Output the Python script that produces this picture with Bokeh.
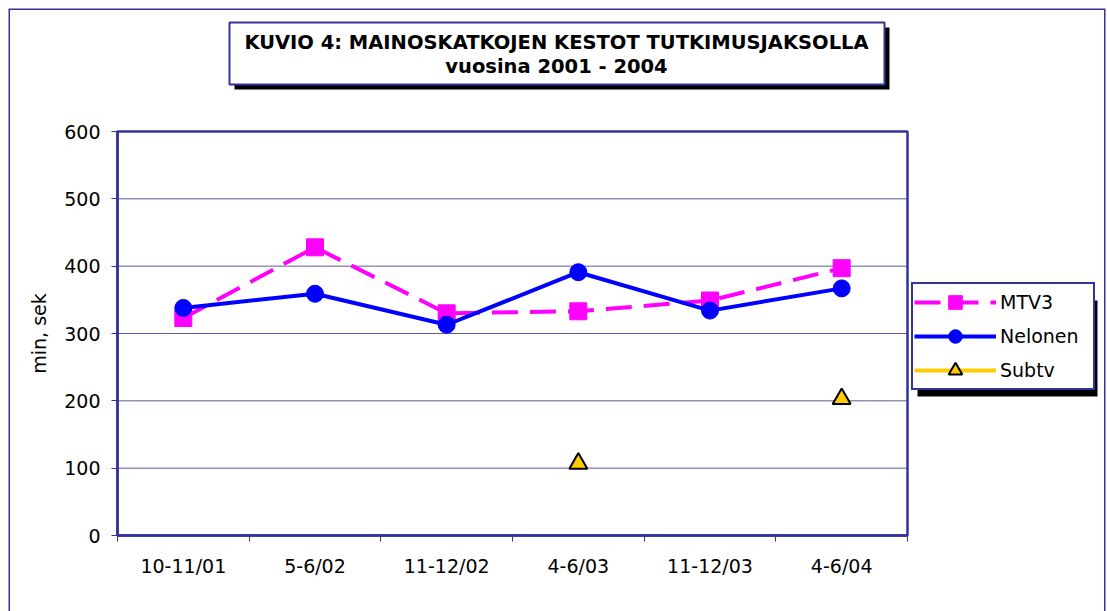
from bokeh.plotting import figure
from bokeh.models import (BoxAnnotation, Label, Legend, LegendItem, FixedTicker, Range1d)
from bokeh.embed import file_html
from bokeh.resources import INLINE

categories = ["10-11/01", "5-6/02", "11-12/02", "4-6/03", "11-12/03", "4-6/04"]
mtv3 = [323, 428, 330, 333, 349, 397]
nelonen = [338, 359, 313, 391, 334, 367]
subtv = [None, None, None, 107, None, 203]
y_ticks = [0, 100, 200, 300, 400, 500, 600]
title_line1 = "KUVIO 4: MAINOSKATKOJEN KESTOT TUTKIMUSJAKSOLLA"
title_line2 = "vuosina 2001 - 2004"
y_label = "min, sek"

NAVY = "#333399"
GRID = "#5c5c9c"
FONT = "DejaVu Sans"
FS = "19px"

N = len(categories)
x = [i + 0.5 for i in range(N)]
subtv_vals = [float("nan") if v is None else v for v in subtv]
ymin, ymax = y_ticks[0], y_ticks[-1]

# page geometry (pixels)
W, H = 1107, 611
FL, FT, FR, FB = 8, 8, 1105, 611          # frame (outer border)
PL, PT, PR, PB = 117, 131, 907, 535       # plot area
sx = (PR - PL) / N
sy = (PB - PT) / (ymax - ymin)
x_range = Range1d(0 - (PL - FL) / sx, N + (FR - PR) / sx)
y_range = Range1d(ymin - (FB - PB) / sy, ymax + (PT - FT) / sy)

p = figure(width=W, height=H, output_backend="svg", toolbar_location=None,
           x_range=x_range, y_range=y_range,
           min_border_left=FL, min_border_right=W - FR, min_border_top=FT,
           min_border_bottom=H - FB)
p.background_fill_color = "white"
p.border_fill_color = "white"
p.outline_line_color = None
p.grid.visible = False

# x axis
p.xaxis.fixed_location = ymin
p.xaxis.bounds = (0, N)
p.xaxis.ticker = FixedTicker(ticks=x, minor_ticks=list(range(N + 1)))
p.xaxis.major_label_overrides = {xi: c for xi, c in zip(x, categories)}
p.xaxis.major_tick_out = 0
p.xaxis.major_tick_in = 0
p.xaxis.minor_tick_out = 6
p.xaxis.minor_tick_in = 0
p.xaxis.minor_tick_line_color = NAVY
p.xaxis.minor_tick_line_width = 1
p.xaxis.axis_line_color = NAVY
p.xaxis.axis_line_width = 2.5
p.xaxis.major_label_standoff = 13
p.xaxis.major_label_text_font = FONT
p.xaxis.major_label_text_font_size = FS
p.xaxis.major_label_text_color = "black"

# y axis
p.yaxis.fixed_location = 0
p.yaxis.bounds = (ymin, ymax)
p.yaxis.ticker = FixedTicker(ticks=y_ticks, minor_ticks=[])
p.yaxis.major_tick_out = 6
p.yaxis.major_tick_in = 0
p.yaxis.major_tick_line_color = NAVY
p.yaxis.axis_line_color = NAVY
p.yaxis.axis_line_width = 2.5
p.yaxis.major_label_standoff = 11
p.yaxis.major_label_text_font = FONT
p.yaxis.major_label_text_font_size = FS
p.yaxis.major_label_text_color = "black"
p.yaxis.axis_label = y_label
p.yaxis.axis_label_text_font = FONT
p.yaxis.axis_label_text_font_size = FS
p.yaxis.axis_label_text_font_style = "normal"
p.yaxis.axis_label_text_color = "black"
p.yaxis.axis_label_standoff = 11

# horizontal gridlines inside the plot area
p.segment(x0=[0] * (len(y_ticks) - 2), x1=[N] * (len(y_ticks) - 2),
          y0=y_ticks[1:-1], y1=y_ticks[1:-1], line_color=GRID, line_width=1)

# series
r_m = p.line(x, mtv3, line_color="#FF00FF", line_width=4, line_dash="26 12")
s_m = p.scatter(x, mtv3, marker="square", size=17, fill_color="#FF00FF", line_color="#FF00FF")
r_n = p.line(x, nelonen, line_color="#0000FF", line_width=4)
s_n = p.scatter(x, nelonen, marker="circle", size=17, fill_color="#0000FF", line_color="#0000FF")
r_s = p.line(x, subtv_vals, line_color="#FFCC00", line_width=4)
s_s = p.scatter(x, subtv_vals, marker="triangle", size=18, fill_color="#FFCC00",
                line_color="black", line_width=2)

# plot area border
p.add_layout(BoxAnnotation(left=0, right=N, bottom=ymin, top=ymax,
                           fill_alpha=0, line_color=NAVY, line_alpha=1, line_width=2.5))


def canvas_box(l, t, r, b, **kw):
    return BoxAnnotation(left=l, right=r, top=t, bottom=b,
                         left_units="canvas", right_units="canvas",
                         top_units="canvas", bottom_units="canvas", **kw)


# outer border (bottom edge runs off the page)
p.add_layout(canvas_box(FL, FT, FR, H + 20, fill_alpha=0, line_color=NAVY,
                        line_alpha=1, line_width=3))

# title box with shadow
p.add_layout(canvas_box(234, 27, 889, 89, fill_color="black", fill_alpha=1, line_alpha=0))
p.add_layout(canvas_box(229, 22, 884, 84, fill_color="white", fill_alpha=1,
                        line_color=NAVY, line_alpha=1, line_width=2))
for txt, ty in ((title_line1, 42), (title_line2, 66)):
    p.add_layout(Label(x=556, y=ty, x_units="canvas", y_units="canvas", text=txt,
                       text_align="center", text_baseline="middle", text_font=FONT,
                       text_font_size="19.5px", text_font_style="bold", text_color="black"))

# legend shadow
p.add_layout(canvas_box(917, 300, 1097, 396, fill_color="black", fill_alpha=1, line_alpha=0))

legend = Legend(items=[LegendItem(label="MTV3", renderers=[r_m, s_m]),
                       LegendItem(label="Nelonen", renderers=[r_n, s_n]),
                       LegendItem(label="Subtv", renderers=[r_s, s_s])],
                location=(911 - FL, FB - 390), orientation="vertical",
                border_line_color=NAVY, border_line_width=2.5, border_line_alpha=1,
                background_fill_color="white", background_fill_alpha=1,
                padding=1, spacing=-4, margin=0, glyph_width=82, glyph_height=34,
                label_standoff=4, label_width=92, label_height=34,
                label_text_font=FONT, label_text_font_size=FS, label_text_color="black")
p.add_layout(legend)

open("out.html", "w").write(file_html(p, INLINE))
